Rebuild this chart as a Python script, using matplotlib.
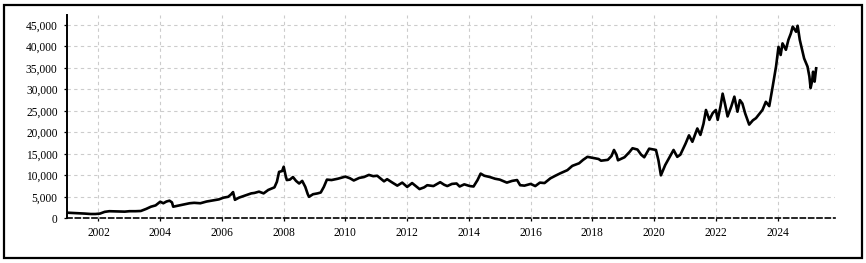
import matplotlib
matplotlib.use("Agg")
import matplotlib.pyplot as plt
from matplotlib.patches import Rectangle
from matplotlib.ticker import FuncFormatter, MultipleLocator

years = [2001.00, 2001.15, 2001.35, 2001.55, 2001.75, 2001.90, 2002.05, 2002.20, 2002.35, 2002.60,
         2002.85, 2003.00, 2003.20, 2003.37, 2003.55, 2003.70, 2003.85, 2004.00, 2004.10, 2004.20,
         2004.30, 2004.38, 2004.42, 2004.55, 2004.75, 2004.95, 2005.10, 2005.30, 2005.50, 2005.75,
         2005.90, 2006.05, 2006.20, 2006.30, 2006.36, 2006.42, 2006.55, 2006.75, 2006.95, 2007.05,
         2007.20, 2007.35, 2007.50, 2007.70, 2007.78, 2007.85, 2007.95, 2008.00, 2008.06, 2008.10,
         2008.20, 2008.30, 2008.40, 2008.50, 2008.60, 2008.70, 2008.78, 2008.82, 2008.95, 2009.10,
         2009.20, 2009.30, 2009.40, 2009.55, 2009.75, 2010.00, 2010.15, 2010.27, 2010.45, 2010.60,
         2010.76, 2010.90, 2011.03, 2011.15, 2011.25, 2011.35, 2011.50, 2011.68, 2011.84, 2012.00,
         2012.16, 2012.30, 2012.40, 2012.55, 2012.65, 2012.85, 2013.07, 2013.20, 2013.30, 2013.45,
         2013.60, 2013.70, 2013.85, 2014.03, 2014.15, 2014.28, 2014.38, 2014.50, 2014.68, 2014.85,
         2015.00, 2015.23, 2015.40, 2015.56, 2015.66, 2015.80, 2016.00, 2016.15, 2016.30, 2016.45,
         2016.64, 2016.80, 2016.97, 2017.19, 2017.35, 2017.57, 2017.70, 2017.84, 2018.06, 2018.20,
         2018.28, 2018.50, 2018.62, 2018.70, 2018.78, 2018.83, 2019.04, 2019.20, 2019.30, 2019.46,
         2019.58, 2019.68, 2019.84, 2020.06, 2020.14, 2020.22, 2020.36, 2020.50, 2020.63, 2020.75,
         2020.85, 2021.02, 2021.13, 2021.24, 2021.40, 2021.50, 2021.60, 2021.68, 2021.79, 2021.90,
         2022.00, 2022.06, 2022.15, 2022.22, 2022.30, 2022.38, 2022.50, 2022.60, 2022.70, 2022.78,
         2022.86, 2022.95, 2023.08, 2023.20, 2023.30, 2023.51, 2023.62, 2023.73, 2023.84, 2023.95,
         2024.03, 2024.10, 2024.16, 2024.27, 2024.35, 2024.43, 2024.49, 2024.60, 2024.65, 2024.72,
         2024.86, 2024.97, 2025.03, 2025.07, 2025.12, 2025.15, 2025.20, 2025.25]

values = [1300, 1250, 1200, 1100, 1000, 1000, 1100, 1500, 1650, 1600,
          1550, 1650, 1650, 1700, 2200, 2700, 3000, 3860, 3500, 3900,
          4100, 3700, 2700, 2900, 3200, 3500, 3600, 3500, 3900, 4200,
          4400, 4800, 5000, 5600, 6100, 4300, 4800, 5300, 5800, 5900,
          6200, 5800, 6600, 7200, 8500, 10800, 11000, 12000, 10000, 8900,
          9000, 9600, 8700, 8100, 8700, 7300, 5600, 5000, 5600, 5800,
          6000, 7300, 9000, 8900, 9200, 9700, 9300, 8800, 9400, 9600,
          10100, 9800, 9900, 9200, 8600, 9100, 8400, 7600, 8300, 7300,
          8200, 7400, 6800, 7200, 7700, 7500, 8400, 7800, 7500, 8000,
          8100, 7400, 7900, 7500, 7400, 8900, 10400, 9900, 9600, 9200,
          9000, 8300, 8700, 8900, 7700, 7600, 8000, 7500, 8300, 8200,
          9300, 9900, 10500, 11200, 12200, 12800, 13600, 14300, 14000, 13800,
          13400, 13600, 14500, 15900, 14800, 13500, 14200, 15400, 16300, 16000,
          14800, 14200, 16200, 15900, 13500, 10000, 12400, 14200, 15900, 14300,
          14800, 17400, 19300, 17800, 20900, 19400, 22000, 25200, 22900, 24500,
          25200, 22900, 26000, 29000, 26500, 23700, 26000, 28300, 24800, 27500,
          26700, 24400, 21800, 22800, 23300, 25200, 27100, 26100, 30600, 35300,
          39900, 38000, 40700, 39200, 41500, 43000, 44600, 43400, 44800, 41500,
          37200, 35300, 33000, 30300, 32000, 34100, 31800, 34900]

y_ticks = [0, 5000, 10000, 15000, 20000, 25000, 30000, 35000, 40000, 45000]

plt.rcParams['font.family'] = ['Liberation Serif', 'DejaVu Serif']

fig = plt.figure(figsize=(8.66, 2.63), dpi=100)
fig.patches.append(Rectangle((3.5 / 866, 5 / 263), 858 / 866, 253 / 263,
                             transform=fig.transFigure, fill=False,
                             edgecolor='black', linewidth=1.6, zorder=10))

ax = fig.add_axes([66.7 / 866, 44.7 / 263, (835.3 - 66.7) / 866, (248 - 44.7) / 263])
ax.plot(years, values, color='black', linewidth=1.9, solid_joinstyle='round', zorder=3)

ax.set_xlim(2000.97, 2025.87)
ax.set_ylim(0, 47300)
ax.xaxis.set_major_locator(MultipleLocator(2))
ax.set_yticks(y_ticks)
ax.yaxis.set_major_formatter(FuncFormatter(lambda v, p: f"{int(v):,}"))
ax.xaxis.set_major_formatter(FuncFormatter(lambda v, p: f"{int(round(v))}"))

ax.grid(True, color='#cccccc', linestyle=(0, (3, 3)), linewidth=0.8, zorder=0)
for s in ['top', 'right']:
    ax.spines[s].set_visible(False)
ax.spines['left'].set_linewidth(1.4)
ax.spines['bottom'].set_linestyle((0, (3, 2)))
ax.spines['bottom'].set_linewidth(1.2)
ax.tick_params(axis='both', length=2.5, width=0.9, labelsize=8.3, color='black')
ax.tick_params(axis='y', pad=4)
ax.tick_params(axis='x', pad=4)

fig.savefig('out.png', dpi=100)
